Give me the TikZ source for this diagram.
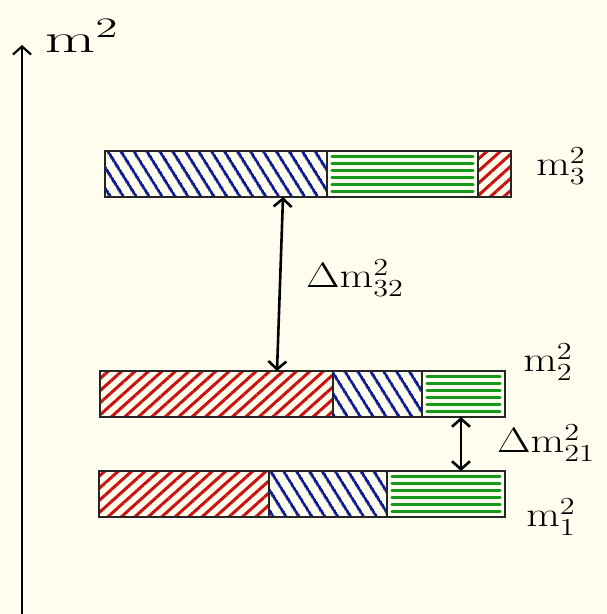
\documentclass[tikz,border=0pt]{standalone}
\usepackage{amsmath}
\usetikzlibrary{positioning,patterns.meta,arrows.meta}
\definecolor{paper}{HTML}{FFFDEE}
\definecolor{hatchred}{HTML}{CC1111}
\definecolor{hatchblue}{HTML}{0C1A94}
\definecolor{hatchgreen}{HTML}{16991A}

\tikzset{
  seg/.style={draw=black!85, line width=2.4pt, minimum height=46pt,
    inner sep=0pt, outer sep=0pt, anchor=north west},
  redseg/.style={seg, pattern={Lines[angle=42,distance=9pt,line width=3pt]},
    pattern color=hatchred},
  blueseg/.style={seg, pattern={Lines[angle=-58,distance=10.5pt,line width=3pt]},
    pattern color=hatchblue},
  greenseg/.style={seg},
  greenhatch/.style={hatchgreen, line width=3.2pt, line cap=round},
  gap/.style={{Straight Barb[length=8pt,width=18pt]}-{Straight Barb[length=8pt,width=18pt]},
    line width=2.6pt},
  lbl/.style={font=\huge, xscale=2.1, yscale=1.7, transform shape, inner sep=0pt}
}

\begin{document}
\begin{tikzpicture}[x=1pt, y=-1pt]
  \fill[paper] (0,0) rectangle (606,614);
  \useasboundingbox (0,0) rectangle (606,614);

  % axis
  \coordinate (axbot) at (22,614);
  \coordinate (axtop) at (22,45);
  \draw[line width=2.2pt, -{Straight Barb[length=8pt,width=18pt]}] (axbot) -- (axtop);
  \node[lbl, xscale=1.5, yscale=1.15] (axlbl) at (82,36) {$\mathrm{m}^2$};

  % third level
  \node[blueseg, minimum width=222pt] (b3a) at (105,151) {};
  \node[greenseg, minimum width=151pt, right=0pt of b3a] (b3b) {};
  \node[redseg, minimum width=33pt, right=0pt of b3b] (b3c) {};
  \node[lbl] (m3) at (561,166) {$\mathrm{m}_3^2$};

  % second level
  \node[redseg, minimum width=233pt] (b2a) at (100,371) {};
  \node[blueseg, minimum width=89pt, right=0pt of b2a] (b2b) {};
  \node[greenseg, minimum width=83pt, right=0pt of b2b] (b2c) {};
  \node[lbl] (m2) at (548,362) {$\mathrm{m}_2^2$};

  % first level
  \node[redseg, minimum width=170pt] (b1a) at (99,471) {};
  \node[blueseg, minimum width=118pt, right=0pt of b1a] (b1b) {};
  \node[greenseg, minimum width=118pt, right=0pt of b1b] (b1c) {};
  \node[lbl] (m1) at (551,517) {$\mathrm{m}_1^2$};

  % green strokes
  \foreach \n in {b3b,b2c,b1c}
    \foreach \k in {1,...,6}
      \draw[greenhatch] ([xshift=5pt,yshift=-\k*7pt+1.5pt]\n.north west)
        -- ([xshift=-5pt,yshift=-\k*7pt+1.5pt]\n.north east);

  % splittings
  \draw[gap] ([xshift=-44pt]b3a.south east) -- ([xshift=-56pt]b2a.north east);
  \node[lbl] (d32) at (355,278) {$\Delta\mathrm{m}_{32}^2$};
  \draw[gap] ([xshift=39pt]b2c.south west) -- ([xshift=74pt]b1c.north west);
  \node[lbl] (d21) at (546,443) {$\Delta\mathrm{m}_{21}^2$};
\end{tikzpicture}
\end{document}
